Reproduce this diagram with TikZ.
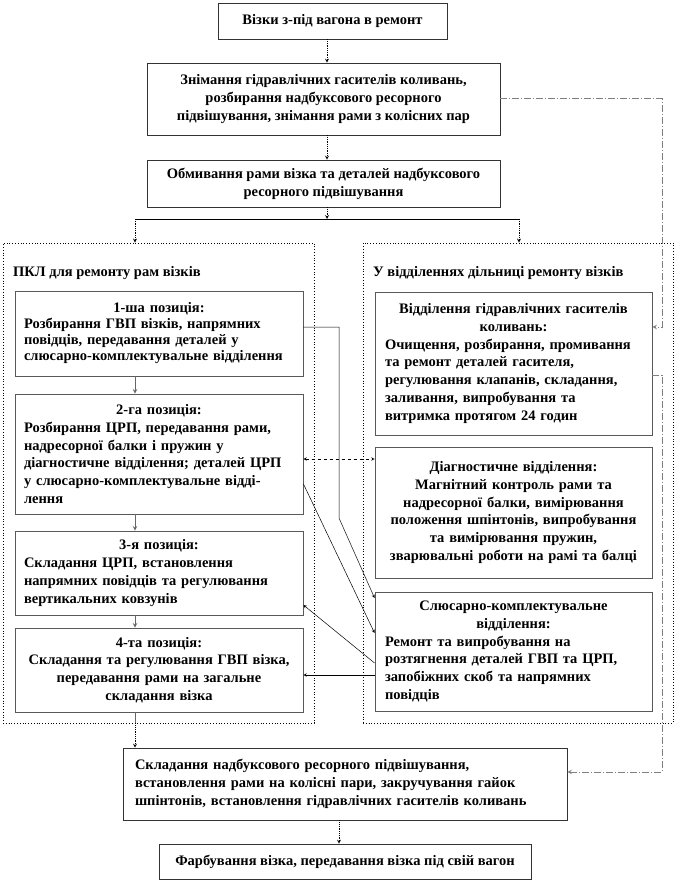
\documentclass[tikz,border=0pt]{standalone}
\usepackage{fontspec}
\setmainfont{Liberation Serif}
\newcommand{\headline}[1]{\makebox[\linewidth][c]{#1}}
\begin{document}
\begin{tikzpicture}[x=1pt, y=-1pt, >=stealth,
        every node/.style={font=\bfseries\fontsize{14.5}{17.8}\selectfont, inner sep=0pt},
        stage/.style={rectangle, draw=black!80, fill=white, line width=0.6pt, align=center},
        posbox/.style={rectangle, draw=black!65, line width=0.9pt, minimum width=288pt, text width=270pt, align=left},
        dept/.style={rectangle, draw=black!65, line width=0.9pt, minimum width=277pt, text width=257pt, align=left},
        zone/.style={rectangle, draw, dotted, line width=0.8pt},
        flow/.style={->, densely dotted, line width=0.8pt},
        posarrow/.style={->, black!60, line width=1pt},
        link/.style={->, line width=0.5pt},
        damper/.style={->, black!50, dash pattern=on 7pt off 2pt on 1pt off 2pt, line width=1pt}]
        \useasboundingbox (0,0) rectangle (678,882);
        \coordinate (axis) at (327,0);
        \coordinate (axisB) at (339,0);
        \coordinate (rail) at (662,0);
        \coordinate (splitL) at (135,219);
        \coordinate (splitR) at (519,219);
        \coordinate (kink) at (339,518);
        % main stages
        \node[stage, minimum width=229pt, minimum height=36pt] (T1) at (332.5,21) {Візки з-під вагона в ремонт};
        \node[stage, minimum width=353pt, minimum height=72pt] (T2) at (323.5,99) {Знімання гідравлічних гасителів коливань,\\розбирання надбуксового ресорного\\підвішування, знімання рами з колісних пар};
        \node[stage, minimum width=353pt, minimum height=47pt] (T3) at (323.5,183.5) {Обмивання рами візка та деталей надбуксового\\ресорного підвішування};
        % areas
        \node[zone, minimum width=311pt, minimum height=480pt] (pkl) at (158.5,483) {};
        \node[zone, minimum width=310pt, minimum height=480pt] (dep) at (518,483) {};
        \node[anchor=west] (pkltitle) at (13,273) {ПКЛ для ремонту рам візків};
        \node[anchor=west] (deptitle) at (373,273) {У відділеннях дільниці ремонту візків};
        % positions
        \node[posbox, minimum height=85pt, font=\bfseries\fontsize{14.5}{16}\selectfont] (L1) at (159,333.5) {\headline{1-ша позиція:}\\Розбирання ГВП візків, напрямних\\повідців, передавання деталей у\\слюсарно-комплектувальне відділення};
        \node[posbox, minimum height=120pt] (L2) at (159,454) {\headline{2-га позиція:}\\Розбирання ЦРП, передавання рами,\\надресорної балки і пружин у\\діагностичне відділення; деталей ЦРП\\у слюсарно-комплектувальне відді-\\лення};
        \node[posbox, minimum height=84pt] (L3) at (159,573) {\headline{3-я позиція:}\\Складання ЦРП, встановлення\\напрямних повідців та регулювання\\вертикальних ковзунів};
        \node[posbox, minimum height=84pt, align=center] (L4) at (159,670) {4-та позиція:\\Складання та регулювання ГВП візка,\\передавання рами на загальне\\складання візка};
        % departments
        \node[dept, minimum height=143pt] (R1) at (513.5,363.5) {\headline{Відділення гідравлічних гасителів}\\\headline{коливань:}\\Очищення, розбирання, промивання\\та ремонт деталей гасителя,\\регулювання клапанів, складання,\\заливання, випробування та\\витримка протягом 24 годин};
        \node[dept, minimum height=131pt, text width=275pt, align=center] (R2) at (513.5,512.5) {Діагностичне відділення:\\Магнітний контроль рами та\\надресорної балки, вимірювання\\положення шпінтонів, випробування\\та вимірювання пружин,\\зварювальні роботи на рамі та балці};
        \node[dept, minimum height=119pt] (R3) at (513.5,651.5) {\headline{Слюсарно-комплектувальне}\\\headline{відділення:}\\Ремонт та випробування на\\розтягнення деталей ГВП та ЦРП,\\запобіжних скоб та напрямних\\повідців};
        % final stages
        \node[stage, minimum width=444pt, minimum height=72pt, text width=420pt, align=left] (asm) at (345,784) {Складання надбуксового ресорного підвішування,\\встановлення рами на колісні пари, закручування гайок\\шпінтонів, встановлення гідравлічних гасителів коливань};
        \node[stage, minimum width=372pt, minimum height=35pt] (paint) at (345,861.5) {Фарбування візка, передавання візка під свій вагон};
        % connectors
        \draw[flow] (axis |- T1.south) -- (axis |- T2.north);
        \draw[flow] (axis |- T2.south) -- (axis |- T3.north);
        \draw[flow] (axis |- T3.south) -- (axis |- splitL);
        \draw[line width=0.6pt] (splitL) -- (splitR);
        \draw[flow] (splitL) -- (splitL |- pkl.north);
        \draw[flow] (splitR) -- (splitR |- dep.north);
        \draw[posarrow] (splitL |- L1.south) -- (splitL |- L2.north);
        \draw[posarrow] (splitL |- L2.south) -- (splitL |- L3.north);
        \draw[posarrow] (splitL |- L3.south) -- (splitL |- L4.north);
        \draw[black!60, line width=1pt] (splitL |- L4.south) -- (splitL |- pkl.south);
        \draw[flow] (splitL |- pkl.south) -- (splitL |- asm.north);
        \draw[flow] (axisB |- asm.south) -- (axisB |- paint.north);
        \draw[link] (L1.east |- 0,327) -| (kink) -- (R3.west |- 0,598);
        \draw[link] (L2.east |- 0,484) -- (R3.west |- 0,633);
        \draw[link] (R3.west |- 0,663) -- (L3.east |- 0,605);
        \draw[link] (R3.west |- 0,675) -- (L4.east |- 0,675);
        \draw[<->, dashed, line width=0.5pt] (L2.east |- 0,459) -- (R2.west |- 0,459);
        \draw[damper] (T2.east) -| (rail |- 0,327) -- (R1.east |- 0,327);
        \draw[damper] (R1.east |- 0,375) -| (rail |- 0,772) -- (asm.east |- 0,772);
\end{tikzpicture}
\end{document}
